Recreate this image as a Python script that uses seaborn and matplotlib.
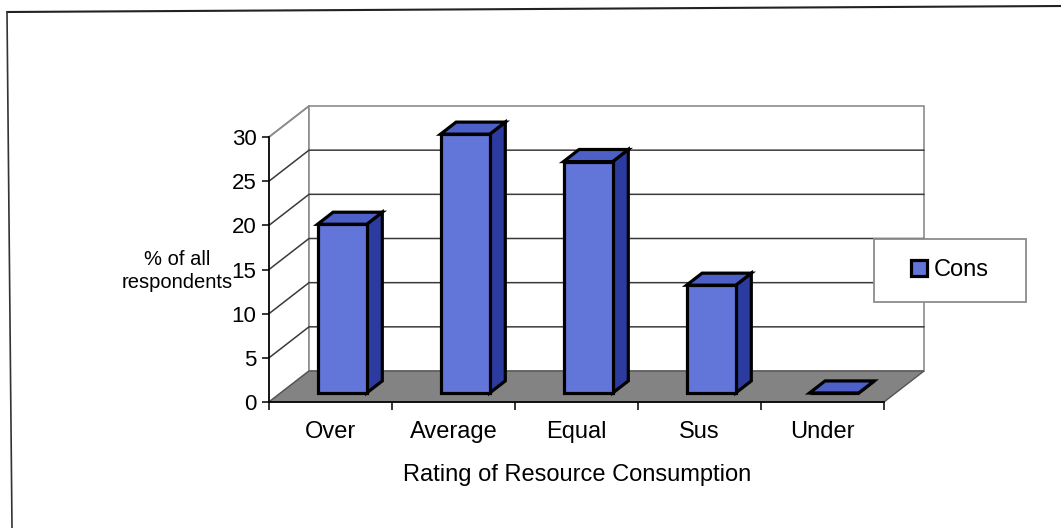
import matplotlib
matplotlib.use("Agg")
import matplotlib.pyplot as plt
import seaborn as sns
from matplotlib.patches import Polygon, Rectangle
from matplotlib.lines import Line2D
from matplotlib.transforms import Affine2D

# Survey results: share of respondents per rating
categories = ["Over", "Average", "Equal", "Sus", "Under"]
cons_values = [19.1, 29.3, 26.2, 12.2, 0.0]
y_ticks = [0, 5, 10, 15, 20, 25, 30]
series_name = "Cons"

sns.set_style("white")
plt.rcParams["font.family"] = ["Liberation Sans", "DejaVu Sans"]
for key in ("text.color", "axes.labelcolor", "xtick.color", "ytick.color"):
    plt.rcParams[key] = "black"

W, H = 1061, 528
fig = plt.figure(figsize=(W / 100, H / 100), dpi=100)
fig.patch.set_facecolor("white")

# front plane of the 3-D box (pixel extents)
px_l, px_r, px_t, px_b = 269, 884, 137, 402
ax = fig.add_axes([px_l / W, 1 - px_b / H, (px_r - px_l) / W, (px_b - px_t) / H])
ax.set_facecolor("none")
ax.set_xlim(-0.5, 4.5)
ax.set_ylim(0, 30)

# oblique projection: full depth of the box, in data units
sx = (px_r - px_l) / 5.0
sy = (px_b - px_t) / 30.0
DX, DY = 40 / sx, 31 / sy
# bars sit between these depth fractions
d0, d1 = 0.29, 0.68

fs_x = 17
fs_y = 16
face = "#6276da"
side = "#2b3ba0"
top = "#4c60c8"
floor_c = "#838383"
wall_edge = "#8c8c8c"
grid_c = "#3a3a3a"

x0, x1 = -0.5, 4.5
# left side wall and back wall
ax.add_patch(Polygon([(x0, 0), (x0, 30), (x0 + DX, 30 + DY), (x0 + DX, DY)],
                     closed=True, facecolor="white", edgecolor=wall_edge,
                     lw=1.2, zorder=0.2, clip_on=False))
ax.add_patch(Polygon([(x0 + DX, DY), (x0 + DX, 30 + DY), (x1 + DX, 30 + DY), (x1 + DX, DY)],
                     closed=True, facecolor="white", edgecolor=wall_edge,
                     lw=1.2, zorder=0.2, clip_on=False))
# gridlines on the side wall and back wall
for v in y_ticks[1:-1]:
    ax.plot([x0, x0 + DX, x1 + DX], [v, v + DY, v + DY], color=grid_c,
            lw=1.1, zorder=0.3, clip_on=False, solid_joinstyle="miter")
ax.plot([x0, x0 + DX], [30, 30 + DY], color=wall_edge, lw=1.2, zorder=0.3, clip_on=False)
# floor
ax.add_patch(Polygon([(x0, 0), (x1, 0), (x1 + DX, DY), (x0 + DX, DY)],
                     closed=True, facecolor=floor_c, edgecolor="#555555",
                     lw=1.0, zorder=0.5, clip_on=False))

# front faces of the bars
sns.barplot(x=categories, y=cons_values, color=face, saturation=1, width=0.4,
            edgecolor="black", linewidth=2.3, label=series_name, ax=ax, zorder=3)

shift = Affine2D().translate(d0 * DX, d0 * DY) + ax.transData
ex, ey = (d1 - d0) * DX, (d1 - d0) * DY
for bar in list(ax.patches):
    if not isinstance(bar, Rectangle):
        continue
    bx, bw, bh = bar.get_x(), bar.get_width(), bar.get_height()
    bar.set_transform(shift)
    bar.set_clip_on(False)
    bar.set_joinstyle("miter")
    side_face = Polygon([(bx + bw, 0), (bx + bw, bh), (bx + bw + ex, bh + ey), (bx + bw + ex, ey)],
                        closed=True, facecolor=side, edgecolor="black", lw=2.3,
                        joinstyle="miter", zorder=2.9, transform=shift, clip_on=False)
    top_face = Polygon([(bx, bh), (bx + bw, bh), (bx + bw + ex, bh + ey), (bx + ex, bh + ey)],
                       closed=True, facecolor=top, edgecolor="black", lw=2.3,
                       joinstyle="miter", zorder=2.95, transform=shift, clip_on=False)
    ax.add_patch(side_face)
    ax.add_patch(top_face)

# axes styling
for s in ("top", "right"):
    ax.spines[s].set_visible(False)
for s in ("left", "bottom"):
    ax.spines[s].set_color("black")
    ax.spines[s].set_linewidth(1.2)
    ax.spines[s].set_zorder(4)
ax.set_yticks(y_ticks)
ax.set_yticklabels([str(t) for t in y_ticks])
ax.tick_params(axis="y", length=5, width=1.1, color="black", direction="out",
               labelsize=fs_y, pad=4, left=True)
ax.set_xticks(range(len(categories)))
ax.set_xticklabels(categories)
ax.set_xticks([i - 0.5 for i in range(len(categories) + 1)], minor=True)
ax.tick_params(axis="x", which="major", length=0, labelsize=fs_x, pad=14)
ax.tick_params(axis="x", which="minor", length=6, width=1.1, color="black",
               direction="out", bottom=True)
ax.grid(False)

ax.set_xlabel("Rating of Resource Consumption", fontsize=fs_x)
ax.xaxis.set_label_coords((577 - px_l) / (px_r - px_l), (px_b - 475) / (px_b - px_t))
ax.xaxis.label.set_va("center")
ax.set_ylabel("% of all\nrespondents", fontsize=14.5, rotation=0, ha="center",
              va="center", multialignment="center", linespacing=1.25)
ax.yaxis.set_label_coords((177 - px_l) / (px_r - px_l), (px_b - 271) / (px_b - px_t))

# legend box
lg_l, lg_t, lg_r, lg_b = 874, 239, 1026, 302
fig.patches.append(Rectangle((lg_l / W, 1 - lg_b / H), (lg_r - lg_l) / W, (lg_b - lg_t) / H,
                             transform=fig.transFigure, facecolor="white",
                             edgecolor="#8c8c8c", lw=1.3, zorder=5))
handles, labels = ax.get_legend_handles_labels()
if ax.get_legend() is not None:
    ax.get_legend().remove()
leg = fig.legend(handles[:1], labels[:1], loc="center",
                 bbox_to_anchor=((lg_l + lg_r) / 2 / W, 1 - (lg_t + lg_b) / 2 / H),
                 bbox_transform=fig.transFigure, frameon=False, fontsize=17,
                 handlelength=0.65, handleheight=0.65, handletextpad=0.3)
leg.set_zorder(6)
for h in leg.legend_handles:
    h.set_edgecolor("black")
    h.set_linewidth(2.3)

# outer chart border (left and top edges)
fig.add_artist(Line2D([7 / W, 1.0], [1 - 12 / H, 1 - 6 / H], transform=fig.transFigure,
                      color="#222222", lw=1.5))
fig.add_artist(Line2D([7 / W, 12 / W], [1 - 12 / H, 0.0], transform=fig.transFigure,
                      color="#333333", lw=1.2))

fig.savefig("out.png", dpi=100, facecolor="white")
